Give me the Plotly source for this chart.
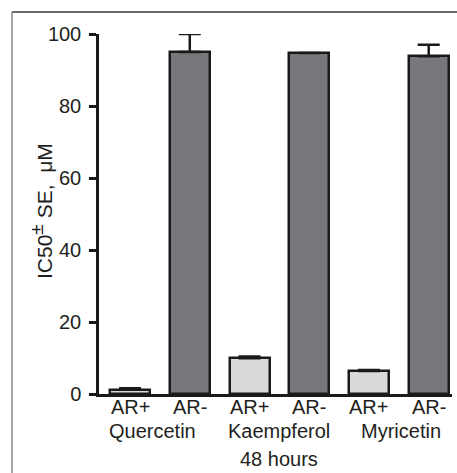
import plotly.graph_objects as go

groups = ["Quercetin", "Kaempferol", "Myricetin"]
ar_labels = ["AR+", "AR-"]
ar_pos_vals = [1.2, 9.9, 6.4]
ar_pos_err = [0.4, 0.5, 0.3]
ar_neg_vals = [95.0, 94.7, 93.8]
ar_neg_err = [5.0, 0.0, 3.2]
y_ticks = [0, 20, 40, 60, 80, 100]
x_caption = "48 hours"
y_title = "IC50<sup><span style='font-size:19px'>±</span></sup>\u00a0SE,\u00a0\u00a0μM"

# interleave AR+ / AR- per group
xs, ys, errs, colors, ticktext = [], [], [], [], []
for i in range(len(groups)):
    for j, (v, e) in enumerate([(ar_pos_vals[i], ar_pos_err[i]), (ar_neg_vals[i], ar_neg_err[i])]):
        xs.append(2 * i + j)
        ys.append(v)
        errs.append(e)
        colors.append("#d9dadb" if j == 0 else "#77787b")
        ticktext.append(ar_labels[j])

FONT = "Liberation Sans, Arial, sans-serif"
TXT = "#231f20"
FS = 20

fig = go.Figure()
fig.add_trace(go.Bar(
    x=xs, y=ys, width=0.67,
    marker=dict(color=colors, line=dict(color="#1a1a1a", width=2.5)),
    error_y=dict(type="data", array=errs, arrayminus=[0] * len(errs), symmetric=False,
                 color="#1a1a1a", thickness=2.5, width=11),
    cliponaxis=False,
    showlegend=False,
))

W, H = 457, 473
L, R, T, B = 99, 5, 34, 79
pw, ph = W - L - R, H - T - B

def px_x(px):
    return (px - L) / pw

def px_y(py):
    return (H - B - py) / ph

def label(x, xref, py, text, size=FS, **kw):
    return dict(x=x, xref=xref, y=px_y(py), yref="paper", text=text, showarrow=False,
                font=dict(size=size, family=FONT, color=TXT),
                xanchor="center", yanchor="middle", **kw)

group_shift = [-7, 0, 2]
annotations = []
for k, t in enumerate(ticktext):
    annotations.append(label(xs[k], "x", 407, t))
for i, g in enumerate(groups):
    annotations.append(label(2 * i + 0.5, "x", 431, g, xshift=group_shift[i]))
annotations.append(label(2.5, "x", 459, x_caption))
annotations.append(label(px_x(41), "paper", 211, y_title, size=21, textangle=-90))

shapes = [
    dict(type="line", xref="paper", yref="paper", x0=px_x(12), x1=px_x(W), y0=px_y(12), y1=px_y(12),
         line=dict(color="#3a3a3a", width=1.5)),
    dict(type="line", xref="paper", yref="paper", x0=px_x(12), x1=px_x(12), y0=px_y(12), y1=px_y(H),
         line=dict(color="#8a8a8a", width=1.5)),
]

fig.update_layout(
    width=W, height=H,
    margin=dict(l=L, r=R, t=T, b=B, pad=0),
    plot_bgcolor="white", paper_bgcolor="white",
    font=dict(family=FONT, size=FS, color=TXT),
    annotations=annotations,
    shapes=shapes,
    bargap=0,
)
fig.update_xaxes(
    range=[-0.52, 5.39], tickmode="array", tickvals=xs, showticklabels=False,
    showline=True, linecolor="#1a1a1a", linewidth=2.5, ticks="", showgrid=False,
    zeroline=False,
)
fig.update_yaxes(
    range=[0, 100], tickmode="array", tickvals=y_ticks,
    showline=True, linecolor="#1a1a1a", linewidth=2.5, ticks="outside", ticklen=7,
    tickwidth=2.5, tickcolor="#1a1a1a", showgrid=False, zeroline=False,
    tickfont=dict(size=FS, family=FONT, color=TXT), ticklabelstandoff=4,
)

fig.write_html("out.html")
